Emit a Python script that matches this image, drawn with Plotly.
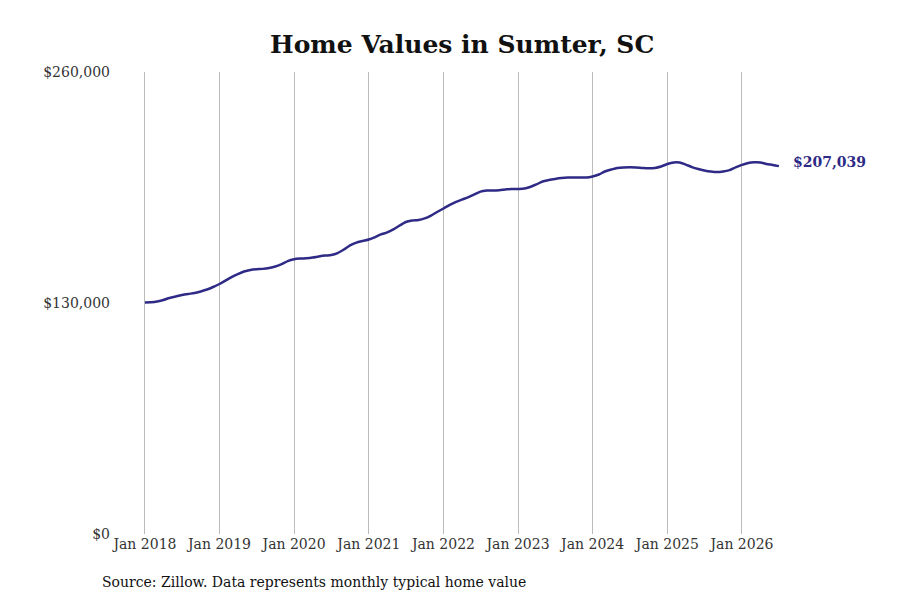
import pandas as pd
import plotly.graph_objects as go

# monthly typical home value, Sumter SC
months = pd.date_range("2018-01-01", "2026-07-01", freq="MS")
values = [
    130300, 130400, 130800, 131700, 132800, 133700, 134500, 135100, 135600, 136500, 137600, 139000,
    140700, 142700, 144600, 146300, 147700, 148600, 149000, 149200, 149700, 150500, 151900, 153600,
    154600, 155000, 155200, 155600, 156200, 156700, 157000, 158100, 160100, 162400, 164000, 164900,
    165700, 167100, 168600, 169700, 171400, 173600, 175600, 176400, 176700, 177600, 179200, 181200,
    183200, 185200, 186800, 188200, 189400, 191100, 192700, 193300, 193300, 193500, 193900, 194200,
    194200, 194400, 195300, 196700, 198400, 199200, 199800, 200300, 200600, 200600, 200600, 200600,
    201200, 202300, 204000, 205100, 206000, 206300, 206400, 206300, 206000, 205800, 206000, 206800,
    208200, 209100, 209100, 207900, 206500, 205400, 204600, 204000, 203700, 204000, 204800, 206300,
    207700, 208800, 209200, 209100, 208200, 207700, 207039,
]
tick_dates = pd.date_range("2018-01-01", "2026-01-01", freq="YS")
tick_labels = [d.strftime("Jan %Y") for d in tick_dates]
y_ticks = [0, 130000, 260000]
y_labels = ["$0", "$130,000", "$260,000"]

LINE = "#2e2a86"
FONT = "DejaVu Serif"

fig = go.Figure()
fig.add_trace(go.Scatter(
    x=months, y=values, mode="lines",
    line=dict(color=LINE, width=2.5, shape="spline", smoothing=0.8),
    cliponaxis=False, showlegend=False,
))

# end label
fig.add_annotation(
    x=months[-1], y=values[-1], text=f"<b>${values[-1]:,}</b>",
    showarrow=False, xanchor="left", yanchor="middle", xshift=12, yshift=4,
    font=dict(family=FONT, size=14, color=LINE),
)

# source note
fig.add_annotation(
    xref="paper", yref="paper", x=-0.016, y=-0.104,
    text="Source: Zillow. Data represents monthly typical home value",
    showarrow=False, xanchor="left", yanchor="middle",
    font=dict(family=FONT, size=14, color="#111111"),
)

fig.update_layout(
    width=900, height=600,
    paper_bgcolor="white", plot_bgcolor="white",
    margin=dict(l=103, r=107, t=64, b=74),
    font=dict(family=FONT, size=14, color="#333333"),
    title=dict(
        text="<b>Home Values in Sumter, SC</b>",
        x=0.509, xref="paper", xanchor="center", y=0.94, yanchor="middle",
        font=dict(family=FONT, size=25, color="#111111"),
    ),
)
fig.update_xaxes(
    range=["2017-07-19", "2026-10-17"],
    tickvals=tick_dates, ticktext=tick_labels,
    showgrid=True, gridcolor="#bbbbbb", gridwidth=1,
    showline=False, zeroline=False, ticks="",
    tickfont=dict(family=FONT, size=14, color="#333333"),
)
fig.update_yaxes(
    range=[0, 260000], tickvals=y_ticks, ticktext=y_labels,
    showgrid=False, zeroline=False, showline=False, ticks="",
    tickfont=dict(family=FONT, size=14, color="#333333"),
)

fig.write_html("out.html")
